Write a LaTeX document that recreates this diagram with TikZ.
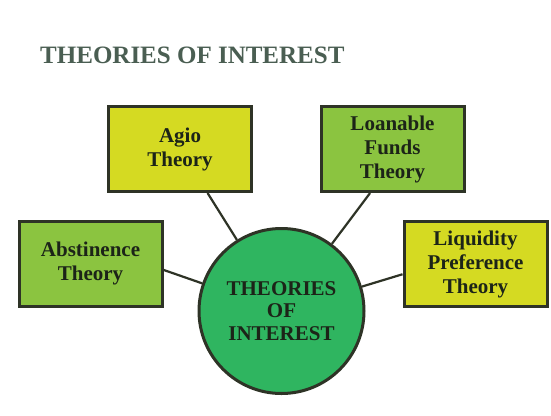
\documentclass[tikz,border=0pt]{standalone}
\usepackage{fontspec}
\setmainfont{Liberation Serif}
\usetikzlibrary{positioning}
\definecolor{edgedark}{HTML}{2E3326}
\definecolor{textdark}{HTML}{1C2418}
\definecolor{titleslate}{HTML}{4A5E52}
\definecolor{agioyellow}{HTML}{D5DA22}
\definecolor{funds}{HTML}{8BC440}
\definecolor{hubgreen}{HTML}{2FB560}

\begin{document}
\begin{tikzpicture}[
  x=1pt, y=-1pt,
  box/.style={rectangle, draw=edgedark, line width=3pt, minimum width=143pt, minimum height=85pt, align=center, text=textdark, font=\bfseries\fontsize{21}{24}\selectfont},
  hub/.style={circle, draw=edgedark, line width=3pt, minimum size=165pt, align=center, text=textdark, font=\bfseries\fontsize{21}{22.5}\selectfont},
  link/.style={draw=edgedark, line width=2.2pt}
]
  \useasboundingbox[fill=white] (0,0) rectangle (551,415);
  \node[anchor=base west, inner sep=0pt, text=titleslate, font=\bfseries\fontsize{25}{30}\selectfont] (title) at (40,63) {THEORIES OF INTEREST};
  \node[box, fill=agioyellow] (agio) at (180,149) {Agio\\Theory};
  \node[box, fill=funds] (loan) at (392.5,149) {Loanable\\Funds\\Theory};
  \node[box, fill=funds] (abst) at (90.5,263.5) {Abstinence\\Theory};
  \node[box, fill=agioyellow] (liq) at (475.5,264) {Liquidity\\Preference\\Theory};
  \node[hub, fill=hubgreen] (hub) at (281.5,311) {THEORIES\\OF\\INTEREST};
  \draw[link] (agio) -- (hub);
  \draw[link] (loan.243) -- (hub);
  \draw[link] (abst.-5) -- (hub);
  \draw[link] (liq.188) -- (hub);
\end{tikzpicture}
\end{document}
